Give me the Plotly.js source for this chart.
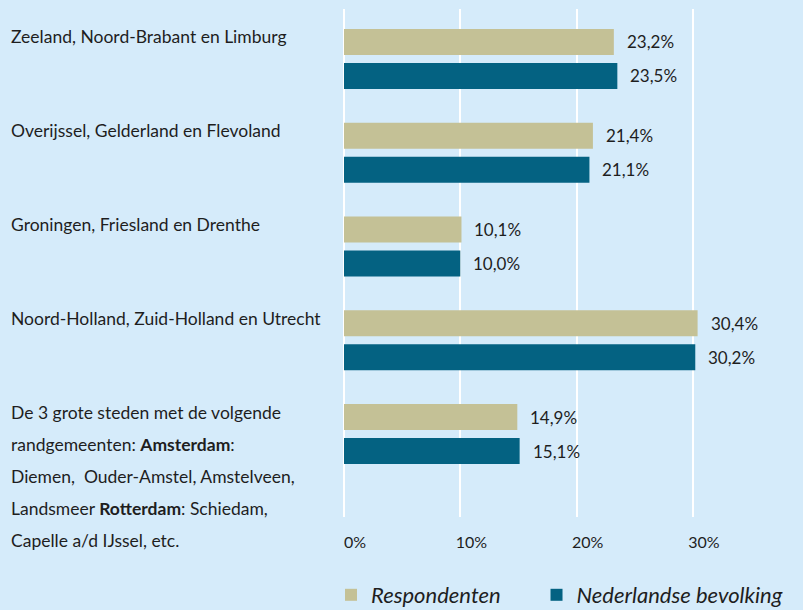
<!DOCTYPE html>
<html>
<head>
<meta charset="utf-8">
<script src="https://cdn.plot.ly/plotly-3.0.1.min.js"></script>
<style>
html,body{margin:0;padding:0;background:#d5ebfa;}
#chart{width:803px;height:610px;}
</style>
</head>
<body>
<div id="chart"></div>
<script>
// ---- data ----
const categories = [
  "Zeeland, Noord-Brabant en Limburg",
  "Overijssel, Gelderland en Flevoland",
  "Groningen, Friesland en Drenthe",
  "Noord-Holland, Zuid-Holland en Utrecht",
  "De 3 grote steden met de volgende randgemeenten"
];
const categoryLines = [
  ["Zeeland, Noord-Brabant en Limburg"],
  ["Overijssel, Gelderland en Flevoland"],
  ["Groningen, Friesland en Drenthe"],
  ["Noord-Holland, Zuid-Holland en Utrecht"],
  ["De 3 grote steden met de volgende",
   "randgemeenten: <b>Amsterdam</b>:",
   "Diemen,  Ouder-Amstel, Amstelveen,",
   "Landsmeer <b>Rotterdam</b>: Schiedam,",
   "Capelle a/d IJssel, etc."]
];
const respondenten = [23.2, 21.4, 10.1, 30.4, 14.9];
const bevolking    = [23.5, 21.1, 10.0, 30.2, 15.1];
const seriesNames  = ["Respondenten", "Nederlandse bevolking"];
const tickVals     = [0, 10, 20, 30];
const tickText     = ["0%", "10%", "20%", "30%"];

const FONT = "Lato, 'Open Sans', sans-serif";
const TXT = "#1e1e1e";
const fmt = v => v.toFixed(1).replace(".", ",") + "%";
const NB = "\u00a0";

const traces = [
  {type:"bar", orientation:"h", name:seriesNames[0] + NB.repeat(6), y:categories, x:respondenten,
   marker:{color:"#c4c196"}, hoverinfo:"none"},
  {type:"bar", orientation:"h", name:seriesNames[1], y:categories, x:bevolking,
   marker:{color:"#046282"}, hoverinfo:"none"}
];

const annotations = [];
categoryLines.forEach((lines, i) => {
  lines.forEach((ln, j) => {
    annotations.push({
      xref:"paper", x:-(344-9)/442, xanchor:"left",
      yref:"y", y:categories[i], yanchor:"middle",
      yshift: 22 - 32*j,
      text: ln, showarrow:false, align:"left",
      font:{family:FONT, size:17.5, color:TXT}
    });
  });
});
[respondenten, bevolking].forEach((arr, s) => {
  arr.forEach((v, i) => {
    annotations.push({
      xref:"x", x:v, xanchor:"left", xshift:11,
      yref:"y", y:categories[i], yanchor:"middle",
      yshift: s === 0 ? 17 : -17,
      text: fmt(v), showarrow:false,
      font:{family:FONT, size:17, color:TXT}
    });
  });
});

const layout = {
  width:803, height:610,
  paper_bgcolor:"#d5ebfa", plot_bgcolor:"#d5ebfa",
  margin:{l:344, r:17, t:9, b:93, pad:0, autoexpand:false},
  barmode:"group", bargap:0.2747, bargroupgap:0.235,
  font:{family:FONT, color:TXT},
  showlegend:true,
  legend:{orientation:"h", xref:"paper", yref:"paper",
          x:(331-344)/442, y:(517-595)/508, xanchor:"left", yanchor:"middle",
          bgcolor:"rgba(0,0,0,0)", traceorder:"normal",
          font:{family:FONT, size:22, color:TXT, style:"italic"}},
  xaxis:{range:[0,38], tickvals:tickVals, ticktext:tickText,
         showgrid:true, gridcolor:"#ffffff", gridwidth:2,
         zeroline:true, zerolinecolor:"#ffffff", zerolinewidth:2,
         showline:false, ticks:"", ticklabelstandoff:14, ticklabelshift:11,
         tickfont:{family:FONT, size:16, color:TXT}, fixedrange:true},
  yaxis:{type:"category", range:[4.885,-0.533], showticklabels:false,
         showgrid:false, zeroline:false, showline:false, ticks:"", fixedrange:true},
  annotations:annotations
};

Plotly.newPlot("chart", traces, layout, {displayModeBar:false, staticPlot:true});
</script>
</body>
</html>
